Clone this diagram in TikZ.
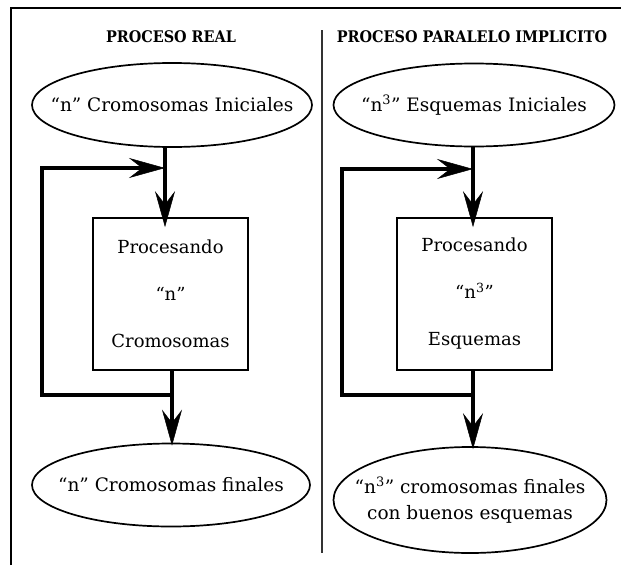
\documentclass[tikz,border=0pt]{standalone}
\usepackage{fontspec}
\setmainfont{DejaVu Serif}
\newfontfamily\ttlfont{DejaVu Serif Condensed}
\usetikzlibrary{arrows.meta,shapes.geometric}
\newcommand{\zw}[1]{\makebox[0pt]{#1}}
\begin{document}
\begin{tikzpicture}[x=1pt,y=-1pt,
  ell/.style={ellipse,draw,line width=1.7pt,inner sep=0pt,font=\fontsize{18.5}{26}\selectfont,align=center},
  boxst/.style={rectangle,draw,line width=1.7pt,minimum width=155pt,minimum height=152pt,inner sep=0pt,font=\fontsize{18}{47}\selectfont,align=center},
  ttl/.style={font=\fontsize{16}{18}\selectfont\ttlfont\bfseries,inner sep=0pt},
  arr/.style={line width=3.3pt,-{Stealth[length=36pt,width=20pt,inset=13pt,line width=0.5pt]}},
  loopst/.style={line width=4.5pt,line join=miter,-{Stealth[length=36pt,width=20pt,inset=13pt,line width=0.5pt]}},
  frame/.style={line width=2pt},
  divider/.style={line width=1.1pt,black!80}]
\useasboundingbox (0,0) rectangle (621,565);
% frame and divider
\draw[frame] (11,565) -- (11,8) -- (621,8);
\draw[divider] (322,30) -- (322,553);
% titles
\node[ttl] (t1) at (171,37) {PROCESO REAL};
\node[ttl] (t2) at (472,37) {PROCESO PARALELO IMPLICITO};
% left column
\node[ell,minimum width=280pt,minimum height=84pt] (e1) at (172,105) {\zw{``n'' Cromosomas Iniciales}};
\node[boxst] (b1) at (170.5,294) {Procesando\\``n''\\Cromosomas};
\node[ell,minimum width=278pt,minimum height=83pt] (e3) at (171,485) {\zw{``n'' Cromosomas finales}};
\coordinate (jt1) at (165,168);
\coordinate (jb1) at (172,395);
\coordinate (c1a) at (42,168);
\coordinate (c1b) at (42,395);
\draw[arr] (e1.south -| jt1) -- ([yshift=-10pt]b1.north -| jt1);
\draw[arr] (b1.south -| jb1) -- ([yshift=-3pt]e3.north -| jb1);
\draw[loopst] (jb1) -- (c1b) -- (c1a) -- (jt1);
% right column
\node[ell,minimum width=281pt,minimum height=83pt] (e2) at (474,105) {\zw{``n\textsuperscript{3}'' Esquemas Iniciales}};
\node[boxst] (b2) at (474.5,294) {Procesando\\``n\textsuperscript{3}''\\Esquemas};
\node[ell,minimum width=273pt,minimum height=106pt] (e4) at (470,500) {\zw{``n\textsuperscript{3}'' cromosomas finales}\\\zw{con buenos esquemas}};
\coordinate (jt2) at (473,169);
\coordinate (jb2) at (473,395);
\coordinate (c2a) at (342,169);
\coordinate (c2b) at (342,395);
\draw[arr] (e2.south -| jt2) -- ([yshift=-10pt]b2.north -| jt2);
\draw[arr] (b2.south -| jb2) -- ([yshift=-3pt]e4.north -| jb2);
\draw[loopst] (jb2) -- (c2b) -- (c2a) -- (jt2);
\end{tikzpicture}
\end{document}
